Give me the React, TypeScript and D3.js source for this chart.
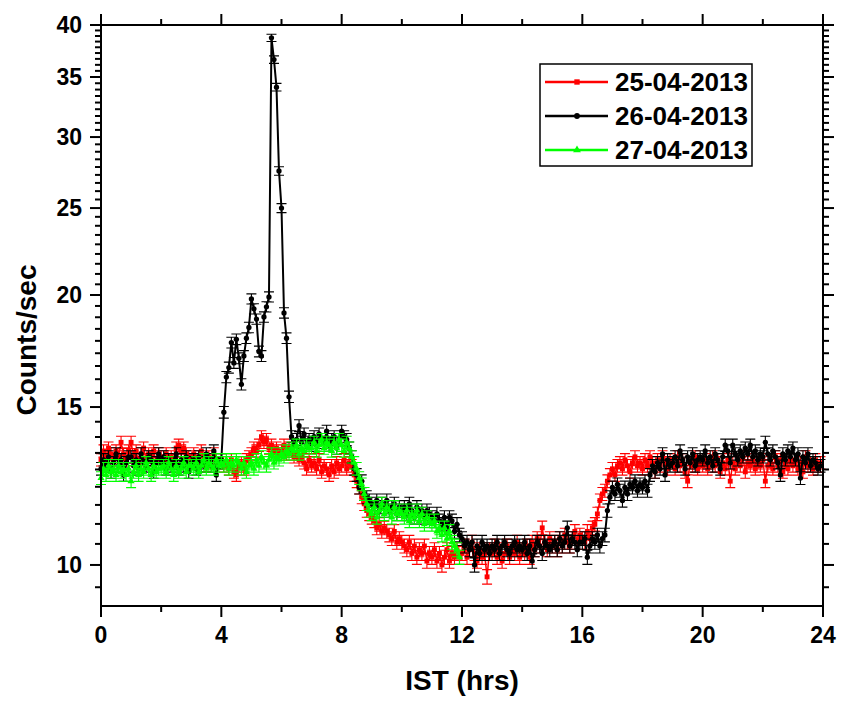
import * as d3 from "d3";

const WIDTH = 841;
const HEIGHT = 704;
const PLOT = { left: 101, right: 823, top: 25, bottom: 606 };
const FONT = "'Liberation Sans', Arial, Helvetica, sans-serif";

// 5-minute bins, counts/sec
const STEP_HRS = 5 / 60;
const BIN_SECONDS = 300;

const X_MAJOR = [0, 4, 8, 12, 16, 20, 24];
const X_MINOR = [2, 6, 10, 14, 18, 22];
const Y_MAJOR = [10, 15, 20, 25, 30, 35, 40];
const Y_MINOR_PER_GAP = 8;
const Y_DOMAIN: [number, number] = [9, 40];

// one row per hour, 12 bins each
const RED_25 = [
  13.1, 13.4, 13.2, 13.5, 13.3, 13.1, 13.4, 13.2, 13.7, 13.3, 13.1, 13.4,
  13.7, 13.2, 13.4, 13.0, 13.3, 13.5, 13.1, 13.3, 13.2, 13.4, 13.0, 13.3,
  13.2, 13.0, 13.3, 13.1, 13.2, 13.0, 13.5, 13.6, 13.4, 13.5, 13.3, 13.2,
  13.1, 13.3, 13.0, 13.2, 13.4, 13.1, 12.9, 13.2, 13.0, 13.3, 13.1, 13.0,
  13.1, 12.9, 13.0, 12.8, 13.1, 12.7, 12.6, 12.9, 13.0, 12.8, 13.1, 13.2,
  13.3, 13.5, 13.4, 13.6, 13.9, 13.7, 13.8, 13.5, 13.6, 13.4, 13.5, 13.3,
  13.4, 13.6, 13.3, 13.5, 13.4, 13.2, 13.3, 13.1, 13.2, 13.0, 12.8, 13.1,
  12.9, 13.0, 12.8, 13.1, 12.7, 12.9, 12.8, 12.6, 12.9, 12.7, 13.0, 12.8,
  12.9, 13.1, 12.8, 13.0, 12.9, 12.6, 12.4, 12.2, 11.9, 11.7, 11.5, 11.4,
  11.3, 11.2, 11.0, 11.1, 10.9, 11.0, 10.9, 10.8, 10.7, 10.9, 10.6, 10.7,
  10.6, 10.5, 10.4, 10.6, 10.3, 10.5, 10.2, 10.4, 10.3, 10.5, 10.1, 10.3,
  10.2, 10.4, 10.1, 10.3, 10.0, 10.2, 10.4, 10.1, 10.3, 10.2, 10.4, 10.2,
  10.3, 10.5, 10.2, 10.4, 10.6, 10.3, 10.1, 10.4, 10.2, 10.3, 9.7, 10.4,
  10.3, 10.5, 10.2, 10.4, 10.1, 10.3, 10.5, 10.2, 10.4, 10.3, 10.6, 10.2,
  10.4, 10.3, 10.5, 10.2, 10.6, 10.4, 10.7, 10.5, 11.0, 10.6, 10.4, 10.7,
  10.5, 10.6, 10.4, 10.7, 10.5, 10.8, 10.6, 10.5, 10.7, 10.9, 10.6, 10.8,
  10.7, 10.6, 10.9, 10.7, 11.0, 11.1, 11.4, 11.8, 12.0, 12.1, 12.4, 12.6,
  12.8, 12.6, 12.9, 13.0, 12.8, 13.1, 12.9, 12.7, 13.0, 13.2, 12.9, 13.0,
  12.8, 13.1, 12.9, 13.2, 13.0, 12.7, 13.1, 12.9, 13.2, 13.0, 12.8, 13.1,
  13.0, 12.8, 13.2, 12.9, 13.1, 12.7, 12.4, 13.0, 12.9, 13.2, 12.8, 13.0,
  12.9, 13.1, 12.8, 13.0, 13.2, 12.9, 13.1, 12.7, 13.0, 12.8, 13.1, 12.4,
  13.0, 12.8, 13.1, 12.9, 13.2, 12.7, 13.0, 12.9, 13.1, 12.8, 13.0, 12.9,
  13.1, 12.4, 12.9, 13.0, 12.8, 13.2, 12.9, 13.1, 12.7, 13.0, 12.8, 13.1,
  12.9, 13.1, 12.8, 13.0, 12.7, 13.2, 12.9, 13.0, 12.8, 13.1, 12.9, 13.0,
];

const BLACK_26 = [
  12.8, 13.1, 12.9, 13.2, 12.7, 13.0, 13.3, 12.9, 13.1, 12.6, 13.0, 13.2,
  13.2, 12.9, 13.1, 12.8, 13.3, 13.0, 12.9, 13.2, 13.1, 12.7, 13.0, 13.3,
  13.0, 13.2, 12.8, 13.1, 12.9, 13.0, 13.3, 12.8, 13.1, 12.9, 13.2, 12.7,
  13.0, 13.1, 12.8, 13.2, 12.9, 13.0, 13.3, 13.1, 12.9, 13.4, 12.6, 13.0,
  13.1, 14.8, 16.2, 16.6, 17.7, 16.8, 17.85, 17.0, 15.9, 17.1, 17.9, 18.4,
  19.8, 19.3, 18.8, 17.3, 17.1, 18.9, 19.4, 19.9, 38.7, 36.6, 34.1, 27.5,
  25.0, 19.1, 17.9, 15.4, 13.9, 13.6, 13.8, 14.3, 13.7, 14.0, 13.6, 13.8,
  13.7, 13.9, 13.6, 14.0, 13.8, 13.7, 14.1, 13.6, 13.8, 13.9, 13.5, 13.8,
  14.1, 13.9, 13.8, 13.5, 13.2, 12.8, 12.6, 12.2, 12.4, 12.0, 11.9, 11.8,
  11.7, 11.6, 11.8, 11.5, 11.7, 11.6, 11.8, 11.5, 11.6, 11.7, 11.4, 11.6,
  11.5, 11.6, 11.4, 11.7, 11.5, 11.3, 11.6, 11.4, 11.5, 11.3, 11.5, 11.4,
  11.3, 11.2, 11.4, 11.2, 11.1, 11.3, 11.0, 11.3, 11.2, 10.9, 11.1, 10.8,
  10.7, 10.5, 10.6, 10.4, 10.6, 10.0, 10.5, 10.3, 10.6, 10.4, 10.5, 10.3,
  10.5, 10.4, 10.6, 10.3, 10.5, 10.6, 10.4, 10.3, 10.5, 10.6, 10.4, 10.5,
  10.4, 10.6, 10.3, 10.5, 10.1, 10.4, 10.6, 10.5, 10.3, 10.6, 10.5, 10.4,
  10.5, 10.6, 10.4, 10.7, 10.5, 10.6, 11.0, 10.5, 10.7, 10.6, 10.4, 10.6,
  10.6, 10.7, 10.2, 10.5, 10.7, 10.6, 10.8, 10.5, 10.7, 10.8, 11.5, 11.9,
  12.2, 12.0, 12.3, 12.1, 11.8, 12.2, 12.0, 12.3, 12.2, 12.4, 12.1, 12.3,
  12.2, 12.4, 12.1, 12.6, 12.9, 12.7, 13.0, 12.8, 13.3, 12.6, 13.1, 12.9,
  13.0, 13.2, 12.9, 13.4, 13.1, 12.8, 13.2, 13.0, 13.3, 12.9, 13.1, 13.2,
  13.1, 13.4, 13.0, 13.2, 12.9, 13.3, 13.1, 12.8, 13.2, 13.6, 13.4, 13.0,
  13.6, 13.3, 13.1, 13.4, 13.2, 13.5, 13.3, 13.6, 13.2, 13.4, 13.1, 13.3,
  13.2, 13.7, 13.3, 13.1, 13.4, 13.2, 13.0, 12.6, 13.3, 13.1, 13.4, 13.2,
  13.5, 13.1, 13.3, 12.5, 13.2, 13.0, 13.3, 12.9, 13.1, 13.0, 12.8, 12.9,
];

const GREEN_27 = [
  12.5, 12.8, 12.6, 12.9, 12.7, 12.8, 12.6, 12.9, 12.7, 12.8, 12.6, 12.8,
  12.4, 12.7, 12.9, 12.6, 12.8, 12.7, 13.0, 12.8, 12.6, 12.9, 12.7, 12.8,
  12.8, 12.9, 12.7, 13.0, 12.8, 12.6, 12.9, 12.7, 12.8, 13.0, 12.7, 12.9,
  12.9, 12.8, 13.0, 12.7, 12.9, 13.1, 12.8, 13.0, 12.9, 12.8, 13.1, 12.9,
  13.0, 12.9, 13.1, 12.8, 13.0, 12.9, 13.1, 13.0, 12.8, 13.0, 12.7, 12.9,
  13.0, 12.8, 13.1, 12.9, 13.2, 13.0, 12.9, 13.1, 13.3, 13.0, 13.2, 13.1,
  13.3, 13.2, 13.4, 13.3, 13.5, 13.4, 13.6, 13.3, 13.5, 13.4, 13.6, 13.5,
  13.5, 13.7, 13.4, 13.6, 13.8, 13.5, 13.7, 13.6, 13.4, 13.7, 13.5, 13.8,
  13.6, 13.4, 13.7, 13.5, 13.2, 13.0, 12.8, 12.5, 12.3, 12.0, 11.7, 11.5,
  11.4, 11.6, 11.3, 11.5, 11.7, 11.4, 11.6, 11.5, 11.3, 11.6, 11.4, 11.5,
  11.4, 11.3, 11.5, 11.2, 11.4, 11.3, 11.5, 11.2, 11.4, 11.1, 11.3, 11.2,
  11.1, 11.2, 10.9, 11.0, 10.8, 11.0, 10.7, 10.9, 10.6, 10.5, 10.4, 10.2,
];

type Marker = "square" | "circle" | "triangle";

type Series = {
  label: string;
  color: string;
  values: number[];
  marker: Marker;
  lineWidth: number;
};

// legend order, also paint order
const SERIES: Series[] = [
  { label: "25-04-2013", color: "#ff0000", values: RED_25, marker: "square", lineWidth: 1.5 },
  { label: "26-04-2013", color: "#000000", values: BLACK_26, marker: "circle", lineWidth: 2 },
  { label: "27-04-2013", color: "#00ff00", values: GREEN_27, marker: "triangle", lineWidth: 1.5 },
];

const SYMBOLS: Record<Marker, { type: d3.SymbolType; size: number }> = {
  square: { type: d3.symbolSquare, size: 24 },
  circle: { type: d3.symbolCircle, size: 22 },
  triangle: { type: d3.symbolTriangle, size: 22 },
};

const CAP = 5;
const MAJOR_TICK = 11;
const MINOR_TICK = 6;

const xScale = d3.scaleLinear().domain([0, 24]).range([PLOT.left, PLOT.right]);
const yScale = d3.scaleLog().domain(Y_DOMAIN).range([PLOT.bottom, PLOT.top]);

const yMinor = (() => {
  const out: number[] = [];
  const step = (Y_MAJOR[1] - Y_MAJOR[0]) / (Y_MINOR_PER_GAP + 1);
  for (let v = Y_MAJOR[0] - step; v >= Y_DOMAIN[0]; v -= step) out.push(v);
  for (let i = 0; i < Y_MAJOR.length - 1; i++) {
    for (let k = 1; k <= Y_MINOR_PER_GAP; k++) out.push(Y_MAJOR[i] + k * step);
  }
  return out;
})();

// poisson error on a 5-min bin
const errorPath = (values: number[]) =>
  values
    .map((v, i) => {
      const x = xScale(i * STEP_HRS);
      const e = Math.sqrt(v / BIN_SECONDS);
      const y1 = yScale(v + e);
      const y2 = yScale(v - e);
      return `M${x},${y1}V${y2}M${x - CAP},${y1}h${2 * CAP}M${x - CAP},${y2}h${2 * CAP}`;
    })
    .join("");

const line = d3
  .line<number>()
  .x((_, i) => xScale(i * STEP_HRS))
  .y((v) => yScale(v));

export default function App() {
  const legendX = 540;
  const legendY = 64;
  const rowGap = 34;

  return (
    <div style={{ position: "absolute", left: 0, top: 0 }}>
      <svg width={WIDTH} height={HEIGHT} style={{ display: "block", background: "#fff" }}>
        {/* data */}
        {SERIES.map((s) => {
          const sym = d3.symbol().type(SYMBOLS[s.marker].type).size(SYMBOLS[s.marker].size)();
          return (
            <g key={s.label}>
              <path d={line(s.values) ?? ""} fill="none" stroke={s.color} strokeWidth={s.lineWidth} />
              <path d={errorPath(s.values)} fill="none" stroke={s.color} strokeWidth={1.1} />
              {s.values.map((v, i) => (
                <path
                  key={i}
                  d={sym ?? ""}
                  transform={`translate(${xScale(i * STEP_HRS)},${yScale(v)})`}
                  fill={s.color}
                />
              ))}
            </g>
          );
        })}

        {/* frame */}
        <rect
          x={PLOT.left}
          y={PLOT.top}
          width={PLOT.right - PLOT.left}
          height={PLOT.bottom - PLOT.top}
          fill="none"
          stroke="#000"
          strokeWidth={2}
        />

        {/* x ticks, bottom and top */}
        {X_MAJOR.map((t) => (
          <g key={`xm${t}`} stroke="#000" strokeWidth={2}>
            <line x1={xScale(t)} x2={xScale(t)} y1={PLOT.bottom} y2={PLOT.bottom + MAJOR_TICK} />
            <line x1={xScale(t)} x2={xScale(t)} y1={PLOT.top} y2={PLOT.top - MAJOR_TICK} />
          </g>
        ))}
        {X_MINOR.map((t) => (
          <g key={`xn${t}`} stroke="#000" strokeWidth={2}>
            <line x1={xScale(t)} x2={xScale(t)} y1={PLOT.bottom} y2={PLOT.bottom + MINOR_TICK} />
            <line x1={xScale(t)} x2={xScale(t)} y1={PLOT.top} y2={PLOT.top - MINOR_TICK} />
          </g>
        ))}
        {X_MAJOR.map((t) => (
          <text
            key={`xl${t}`}
            x={xScale(t)}
            y={643}
            textAnchor="middle"
            fontFamily={FONT}
            fontWeight="bold"
            fontSize={23}
          >
            {t}
          </text>
        ))}

        {/* y ticks, left and right */}
        {Y_MAJOR.map((v) => (
          <g key={`ym${v}`} stroke="#000" strokeWidth={2}>
            <line x1={PLOT.left} x2={PLOT.left - MAJOR_TICK} y1={yScale(v)} y2={yScale(v)} />
            <line x1={PLOT.right} x2={PLOT.right + MAJOR_TICK} y1={yScale(v)} y2={yScale(v)} />
          </g>
        ))}
        {yMinor.map((v) => (
          <g key={`yn${v}`} stroke="#000" strokeWidth={2}>
            <line x1={PLOT.left} x2={PLOT.left - MINOR_TICK} y1={yScale(v)} y2={yScale(v)} />
            <line x1={PLOT.right} x2={PLOT.right + MINOR_TICK} y1={yScale(v)} y2={yScale(v)} />
          </g>
        ))}
        {Y_MAJOR.map((v) => (
          <text
            key={`yl${v}`}
            x={82}
            y={yScale(v)}
            dy="0.36em"
            textAnchor="end"
            fontFamily={FONT}
            fontWeight="bold"
            fontSize={23}
          >
            {v}
          </text>
        ))}

        {/* axis titles */}
        <text
          x={(PLOT.left + PLOT.right) / 2}
          y={690}
          textAnchor="middle"
          fontFamily={FONT}
          fontWeight="bold"
          fontSize={28}
        >
          IST (hrs)
        </text>
        <text
          transform="translate(36,340) rotate(-90)"
          textAnchor="middle"
          fontFamily={FONT}
          fontWeight="bold"
          fontSize={28}
        >
          Counts/sec
        </text>

        {/* legend */}
        <rect x={legendX} y={legendY} width={212} height={102} fill="#fff" stroke="#000" strokeWidth={1.5} />
        {SERIES.map((s, i) => {
          const cy = 82 + i * rowGap;
          const sym = d3.symbol().type(SYMBOLS[s.marker].type).size(SYMBOLS[s.marker].size * 1.2)();
          return (
            <g key={`lg${s.label}`}>
              <line x1={545} x2={608} y1={cy} y2={cy} stroke={s.color} strokeWidth={2.5} />
              <path d={sym ?? ""} transform={`translate(577,${cy})`} fill={s.color} />
              <text x={615} y={cy + 9} fontFamily={FONT} fontWeight="bold" fontSize={26}>
                {s.label}
              </text>
            </g>
          );
        })}
      </svg>
    </div>
  );
}
